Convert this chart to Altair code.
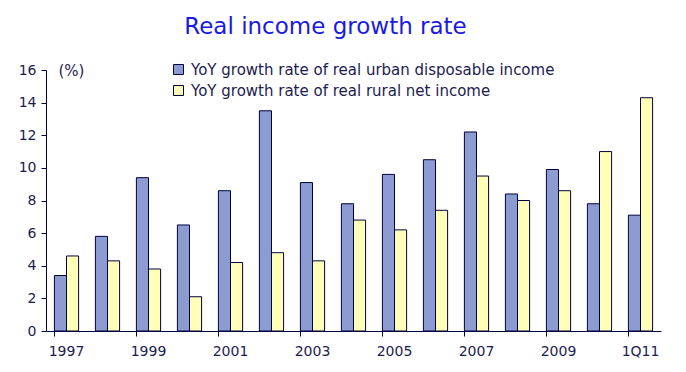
import altair as alt
import pandas as pd

categories = ["1997", "1998", "1999", "2000", "2001", "2002", "2003", "2004",
              "2005", "2006", "2007", "2008", "2009", "2010", "1Q11"]
urban = [3.4, 5.8, 9.4, 6.5, 8.6, 13.5, 9.1, 7.8, 9.6, 10.5, 12.2, 8.4, 9.9, 7.8, 7.1]
rural = [4.6, 4.3, 3.8, 2.1, 4.2, 4.8, 4.3, 6.8, 6.2, 7.4, 9.5, 8.0, 8.6, 11.0, 14.3]
series = ["YoY growth rate of real urban disposable income",
          "YoY growth rate of real rural net income"]
tick_labels = ["1997", "1999", "2001", "2003", "2005", "2007", "2009", "1Q11"]

rows = []
for c, u, r in zip(categories, urban, rural):
    rows.append({"cat": c, "series": series[0], "value": u})
    rows.append({"cat": c, "series": series[1], "value": r})
df = pd.DataFrame(rows)

FONT = "DejaVu Sans"
TXT = "#1c1c50"
FS = 14

chart = alt.Chart(df).mark_bar(stroke="#000040", strokeWidth=1).encode(
    x=alt.X("cat:N", sort=categories,
            scale=alt.Scale(paddingInner=0.41, paddingOuter=0.205),
            axis=alt.Axis(title=None, values=tick_labels, labelAngle=0,
                          bandPosition=0, labelPadding=8,
                          tickSize=5, domainColor="#000040", tickColor="#000040",
                          labelColor=TXT, labelFont=FONT, labelFontSize=FS)),
    xOffset=alt.XOffset("series:N", sort=series),
    y=alt.Y("value:Q",
            scale=alt.Scale(domain=[0, 16], nice=False),
            axis=alt.Axis(values=list(range(0, 17, 2)), grid=False, title="(%)",
                          titleAngle=0, titleX=12, titleY=0, titleAlign="left",
                          titleBaseline="middle", titleFont=FONT, titleFontSize=15,
                          titleFontWeight="normal", titleColor=TXT,
                          tickSize=5, domainColor="#000040", tickColor="#000040",
                          labelColor=TXT, labelFont=FONT, labelFontSize=FS,
                          labelPadding=5)),
    color=alt.Color("series:N", sort=series,
                    scale=alt.Scale(domain=series, range=["#8c9bd0", "#ffffb8"]),
                    legend=alt.Legend(title=None, orient="none", legendX=125,
                                      legendY=-8, symbolType="square",
                                      symbolSize=100, symbolStrokeColor="#000040",
                                      symbolStrokeWidth=1, labelFont=FONT,
                                      labelFontSize=15, labelColor=TXT,
                                      labelLimit=0, rowPadding=5, labelOffset=5)),
).properties(
    width=615, height=261,
    title=alt.TitleParams("Real income growth rate", font=FONT, fontSize=23,
                          fontWeight="normal", color="#1a1ae0", anchor="middle",
                          dx=-28, offset=23),
    autosize=alt.AutoSizeParams(type="none"),
    padding={"left": 38, "top": 62, "right": 17, "bottom": 33},
).configure_view(stroke=None)

chart.save("out.html", embed_options={"renderer": "svg", "actions": False})
